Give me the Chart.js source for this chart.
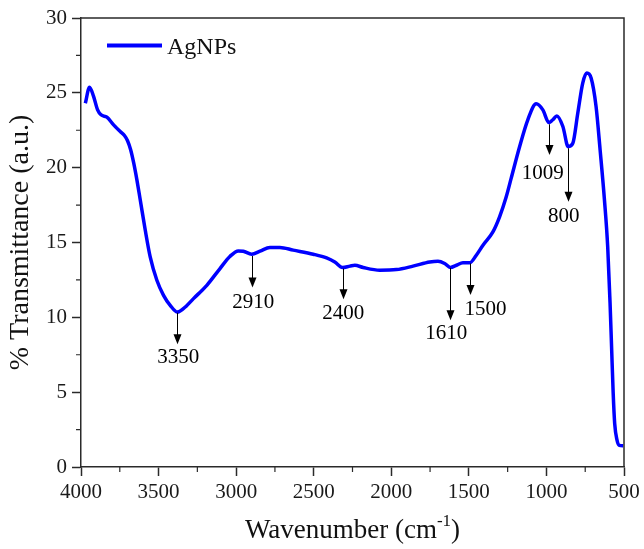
<!DOCTYPE html>
<html>
<head>
<meta charset="utf-8">
<script src="https://cdn.jsdelivr.net/npm/chart.js@4/dist/chart.umd.min.js"></script>
<style>
  html, body { margin: 0; padding: 0; background: #fff; }
  #ftirChart { display: block; }
</style>
</head>
<body>
<canvas id="ftirChart" width="644" height="549"></canvas>
<script>
// FTIR spectrum (wavenumber in cm-1, % transmittance)
const wavenumbers = [3972, 3945, 3919, 3893, 3871, 3833, 3790, 3747, 3720, 3700, 3680, 3660, 3640, 3618, 3586, 3554, 3511,
    3468, 3425, 3378, 3340, 3275, 3189, 3104, 3039, 2986, 2954, 2900, 2846, 2782, 2718, 2632, 2503, 2417, 2364,
    2314, 2267, 2235, 2181, 2074, 1967, 1860, 1752, 1699, 1656, 1619, 1580, 1538, 1495, 1452, 1409, 1345, 1302,
    1259, 1227, 1173, 1120, 1066, 1023, 984, 959, 933, 894, 860, 830, 798, 766, 740, 712, 680, 654, 626, 605,
    590, 580, 570, 560, 545, 530, 505];
const transmittance = [24.3, 25.38, 24.76, 23.86, 23.53, 23.37, 22.86, 22.41, 22.15, 21.8, 21.2, 20.3, 19.2, 17.84, 15.83, 14.04, 12.48,
    11.47, 10.8, 10.35, 10.58, 11.25, 12.14, 13.26, 14.08, 14.44, 14.42, 14.22, 14.42, 14.67, 14.67, 14.49, 14.22, 13.97, 13.7,
    13.33, 13.42, 13.48, 13.33, 13.15, 13.19, 13.42, 13.7, 13.75, 13.6, 13.33, 13.48, 13.64, 13.64, 14.15, 14.82, 15.71, 16.72,
    18.06, 19.3, 21.4, 23.2, 24.27, 23.86, 23.01, 23.2, 23.46, 22.75, 21.41, 21.63, 23.64, 25.65, 26.32, 25.99, 24.08, 21.19, 17.84, 14.7,
    11.0, 8.0, 5.0, 2.9, 1.8, 1.45, 1.42];

const xTicks = [4000, 3500, 3000, 2500, 2000, 1500, 1000, 500];
const yTicks = [0, 5, 10, 15, 20, 25, 30];

// peak annotations: arrow from curve down to tip, label placed below
const peakLabels = ['3350', '2910', '2400', '1610', '1500', '1009', '800'];
const arrowX = [3380, 2900, 2314, 1619, 1490, 986, 862];
const arrowFrom = [10.3, 14.1, 13.25, 13.3, 13.6, 22.9, 21.3];
const arrowTo = [8.2, 12.0, 11.2, 9.8, 11.5, 20.85, 17.72];
const labelX = [3373, 2889, 2310, 1645, 1392, 1023, 888];
const labelY = [7.32, 10.96, 10.25, 8.9, 10.5, 19.58, 16.72];

const seriesName = 'AgNPs';
const SERIF = '"Liberation Serif", "Times New Roman", serif';
const AXIS_COLOR = '#2a2a2a';

const points = wavenumbers.map((w, i) => ({ x: w, y: transmittance[i] }));

const decorPlugin = {
    id: 'decor',
    afterDraw(chart) {
        const ctx = chart.ctx;
        const area = chart.chartArea;
        const xs = chart.scales.x;
        const ys = chart.scales.y;
        ctx.save();

        // frame top / right
        ctx.strokeStyle = AXIS_COLOR;
        ctx.lineWidth = 1.5;
        ctx.beginPath();
        ctx.moveTo(area.left, area.top);
        ctx.lineTo(area.right, area.top);
        ctx.lineTo(area.right, area.bottom);
        ctx.stroke();

        // minor ticks
        ctx.lineWidth = 1.2;
        ctx.beginPath();
        for (let i = 0; i < xTicks.length - 1; i++) {
            const px = xs.getPixelForValue((xTicks[i] + xTicks[i + 1]) / 2);
            ctx.moveTo(px, area.bottom);
            ctx.lineTo(px, area.bottom + 5);
        }
        for (let i = 0; i < yTicks.length - 1; i++) {
            const py = ys.getPixelForValue((yTicks[i] + yTicks[i + 1]) / 2);
            ctx.moveTo(area.left, py);
            ctx.lineTo(area.left - 5, py);
        }
        ctx.stroke();

        // peak arrows
        ctx.strokeStyle = '#000';
        ctx.fillStyle = '#000';
        ctx.lineWidth = 1;
        ctx.font = '21px ' + SERIF;
        ctx.textAlign = 'center';
        ctx.textBaseline = 'middle';
        peakLabels.forEach((lab, i) => {
            const px = Math.round(xs.getPixelForValue(arrowX[i])) + 0.5;
            const y0 = ys.getPixelForValue(arrowFrom[i]);
            const y1 = ys.getPixelForValue(arrowTo[i]);
            ctx.beginPath();
            ctx.moveTo(px, y0);
            ctx.lineTo(px, y1 - 9);
            ctx.stroke();
            ctx.beginPath();
            ctx.moveTo(px - 4, y1 - 10);
            ctx.lineTo(px + 4, y1 - 10);
            ctx.lineTo(px, y1);
            ctx.closePath();
            ctx.fill();
            ctx.fillText(lab, xs.getPixelForValue(labelX[i]), ys.getPixelForValue(labelY[i]));
        });

        // legend
        const lx = area.left + 26;
        const ly = area.top + 27.5;
        ctx.strokeStyle = '#0000ff';
        ctx.lineWidth = 4;
        ctx.beginPath();
        ctx.moveTo(lx, ly);
        ctx.lineTo(lx + 55, ly);
        ctx.stroke();
        ctx.fillStyle = '#111';
        ctx.font = '24px ' + SERIF;
        ctx.textAlign = 'left';
        ctx.textBaseline = 'alphabetic';
        ctx.fillText(seriesName, lx + 60, ly + 8.5);

        // x title with superscript
        const cx = (area.left + area.right) / 2;
        const by = 538;
        ctx.font = '27px ' + SERIF;
        const part1 = 'Wavenumber (cm';
        const sup = '-1';
        const part3 = ')';
        const w1 = ctx.measureText(part1).width;
        const w3 = ctx.measureText(part3).width;
        ctx.font = '17px ' + SERIF;
        const w2 = ctx.measureText(sup).width;
        let sx = cx - (w1 + w2 + w3) / 2;
        ctx.font = '27px ' + SERIF;
        ctx.fillText(part1, sx, by);
        ctx.font = '17px ' + SERIF;
        ctx.fillText(sup, sx + w1, by - 12);
        ctx.font = '27px ' + SERIF;
        ctx.fillText(part3, sx + w1 + w2, by);

        // y title
        ctx.translate(21, (area.top + area.bottom) / 2);
        ctx.rotate(-Math.PI / 2);
        ctx.textAlign = 'center';
        ctx.textBaseline = 'middle';
        ctx.font = '28px ' + SERIF;
        ctx.fillText('% Transmittance (a.u.)', 0, 0);

        ctx.restore();
    }
};

new Chart(document.getElementById('ftirChart'), {
    type: 'line',
    data: {
        datasets: [{
            label: seriesName,
            data: points,
            borderColor: '#0000ff',
            borderWidth: 3.5,
            pointRadius: 0,
            cubicInterpolationMode: 'monotone',
            fill: false
        }]
    },
    options: {
        responsive: false,
        animation: false,
        devicePixelRatio: 1,
        layout: { padding: { top: 18, right: 20, left: 0, bottom: 0 } },
        plugins: { legend: { display: false }, tooltip: { enabled: false } },
        scales: {
            x: {
                type: 'linear',
                reverse: true,
                min: 500,
                max: 4000,
                afterBuildTicks: scale => { scale.ticks = xTicks.map(v => ({ value: v })); },
                afterFit: scale => { scale.height = 82; },
                grid: { drawOnChartArea: false, tickLength: 9, tickColor: AXIS_COLOR, tickWidth: 1.5 },
                border: { color: AXIS_COLOR, width: 1.5 },
                ticks: {
                    color: '#1a1a1a', font: { family: SERIF, size: 21 }, padding: 4, maxRotation: 0,
                    callback: v => String(v)
                }
            },
            y: {
                min: 0,
                max: 30,
                afterBuildTicks: scale => { scale.ticks = yTicks.map(v => ({ value: v })); },
                afterFit: scale => { scale.width = 81; },
                grid: { drawOnChartArea: false, tickLength: 9, tickColor: AXIS_COLOR, tickWidth: 1.5 },
                border: { color: AXIS_COLOR, width: 1.5 },
                ticks: { color: '#1a1a1a', font: { family: SERIF, size: 21 }, padding: 5, callback: v => String(v) }
            }
        }
    },
    plugins: [decorPlugin]
});
</script>
</body>
</html>
